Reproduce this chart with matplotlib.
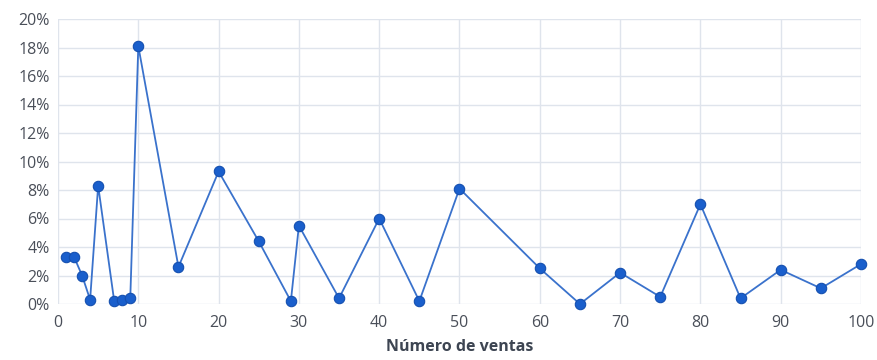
import matplotlib
matplotlib.use('Agg')
import matplotlib.pyplot as plt
from matplotlib.ticker import FuncFormatter, MultipleLocator

# share of clients by number of sales (%)
ventas = [1, 2, 3, 4, 5, 7, 8, 9, 10, 15, 20, 25, 29, 30, 35, 40, 45, 50,
          60, 65, 70, 75, 80, 85, 90, 95, 100]
porcentaje = [3.3, 3.3, 2.0, 0.3, 8.3, 0.2, 0.3, 0.4, 18.1, 2.6, 9.3, 4.4,
              0.2, 5.5, 0.4, 6.0, 0.2, 8.1, 2.5, 0.0, 2.2, 0.5, 7.0, 0.4,
              2.4, 1.1, 2.8]

LINE = '#3a72cc'
MARKER = '#1a5fcc'
GRID = '#dfe4ec'
TICK = '#4a4f59'

plt.rcParams['font.family'] = ['Open Sans', 'DejaVu Sans']

fig = plt.figure(figsize=(8.78, 3.60), dpi=100)
ax = fig.add_axes([58 / 878, 1 - 304 / 360, (861 - 58) / 878, (304 - 19) / 360])

ax.plot(ventas, porcentaje, color=LINE, linewidth=1.3, marker='o',
        markersize=7.5, markerfacecolor=MARKER, markeredgecolor='#1550b0',
        markeredgewidth=0.8, zorder=3, clip_on=False)

ax.set_xlim(0, 100)
ax.set_ylim(0, 20)
ax.xaxis.set_major_locator(MultipleLocator(10))
ax.yaxis.set_major_locator(MultipleLocator(2))
ax.yaxis.set_major_formatter(FuncFormatter(lambda v, _: f'{v:.0f}%'))
ax.grid(True, color=GRID, linewidth=1.0)
ax.set_axisbelow(True)
for s in ax.spines.values():
    s.set_visible(False)
ax.tick_params(length=0, labelsize=11.5, colors=TICK)
ax.tick_params(axis='x', pad=8)
ax.tick_params(axis='y', pad=6)

ax.set_xlabel('Número de ventas', fontsize=11.5, fontweight='bold',
              color='#3d4552', labelpad=6)

fig.savefig('out.png', dpi=100, facecolor='white')
